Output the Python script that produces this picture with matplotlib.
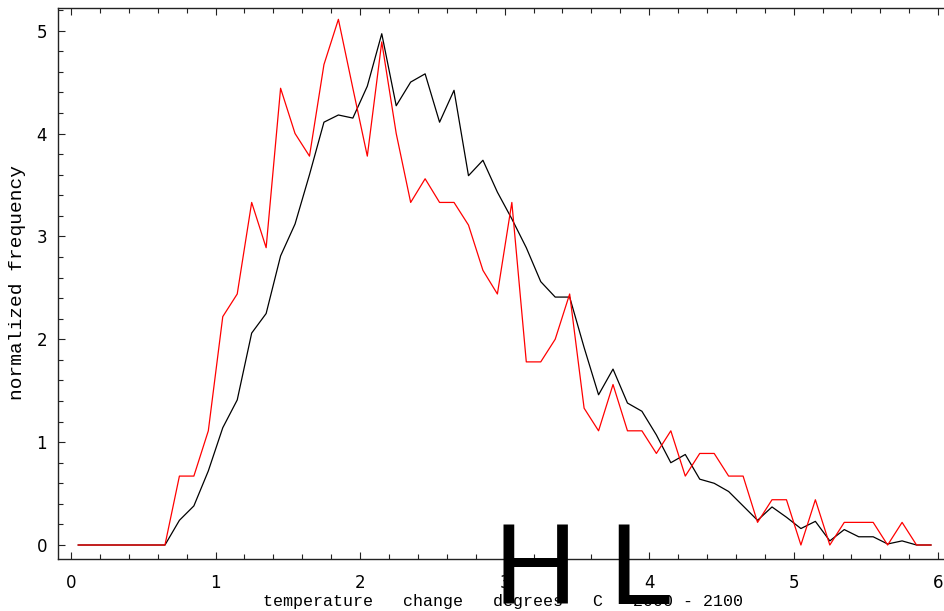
import matplotlib
matplotlib.use("Agg")
import matplotlib.pyplot as plt
from matplotlib.ticker import MultipleLocator

# bin centres, 0.05 .. 5.95
temp_change = [round(0.05 + 0.1 * i, 2) for i in range(60)]

black_freq = [
    0, 0, 0, 0, 0, 0, 0,
    0.24, 0.38, 0.72,
    1.14, 1.41, 2.06, 2.25, 2.81, 3.12, 3.60, 4.11, 4.18, 4.15,
    4.46, 4.97, 4.27, 4.50, 4.58, 4.11, 4.42, 3.59, 3.74, 3.43,
    3.17, 2.89, 2.56, 2.41, 2.41, 1.92, 1.46, 1.71, 1.38, 1.30,
    1.07, 0.80, 0.88, 0.64, 0.60, 0.52, 0.38, 0.24, 0.37, 0.27,
    0.16, 0.23, 0.04, 0.15, 0.08, 0.08, 0.01, 0.04, 0.0, 0.0,
]

red_freq = [
    0, 0, 0, 0, 0, 0, 0,
    0.67, 0.67, 1.11,
    2.22, 2.44, 3.33, 2.89, 4.44, 4.00, 3.78, 4.67, 5.11, 4.44,
    3.78, 4.89, 4.00, 3.33, 3.56, 3.33, 3.33, 3.11, 2.67, 2.44,
    3.33, 1.78, 1.78, 2.00, 2.44, 1.33, 1.11, 1.56, 1.11, 1.11,
    0.89, 1.11, 0.67, 0.89, 0.89, 0.67, 0.67, 0.22, 0.44, 0.44,
    0, 0.44, 0, 0.22, 0.22, 0.22, 0, 0.22, 0, 0,
]

W, H = 944, 611
fig = plt.figure(figsize=(W / 100, H / 100), dpi=100)
ax = fig.add_axes([58 / W, (H - 559) / H, (W - 58) / W, (559 - 8) / H])

ax.plot(temp_change, black_freq, color="black", lw=0.9)
ax.plot(temp_change, red_freq, color="#ff0000", lw=0.9)

ax.set_xlim(-0.09, 6.04)
ax.set_ylim(-0.136, 5.22)
ax.xaxis.set_major_locator(MultipleLocator(1))
ax.xaxis.set_minor_locator(MultipleLocator(0.2))
ax.yaxis.set_major_locator(MultipleLocator(1))
ax.yaxis.set_minor_locator(MultipleLocator(0.2))

ax.tick_params(which="both", direction="in", top=True, right=False,
               width=0.8, colors="#222222", labelcolor="black")
ax.tick_params(which="major", length=5)
ax.tick_params(which="minor", length=3.5)
ax.tick_params(axis="x", pad=11, labelsize=12)
ax.tick_params(axis="y", pad=8, labelsize=12)
for lab in ax.get_xticklabels() + ax.get_yticklabels():
    lab.set_family("DejaVu Sans")

for side in ["left", "bottom", "top"]:
    ax.spines[side].set_linewidth(1.0)
    ax.spines[side].set_color("#222222")
ax.spines["right"].set_visible(False)

# axis titles placed in pixel coordinates
fig.text(18 / W, 1 - 282 / H, "normalized frequency", rotation=90,
         ha="center", va="center", family="Liberation Mono", fontsize=14)
fig.text(503 / W, 1 - 606 / H,
         "temperature   change   degrees   C   2000 - 2100",
         ha="center", va="baseline", family="Liberation Mono", fontsize=12)
fig.text(494 / W, 1 - 604 / H, "H L", ha="left", va="baseline",
         family="Liberation Sans", fontsize=83, color="black")

fig.savefig("out.png", dpi=100)
